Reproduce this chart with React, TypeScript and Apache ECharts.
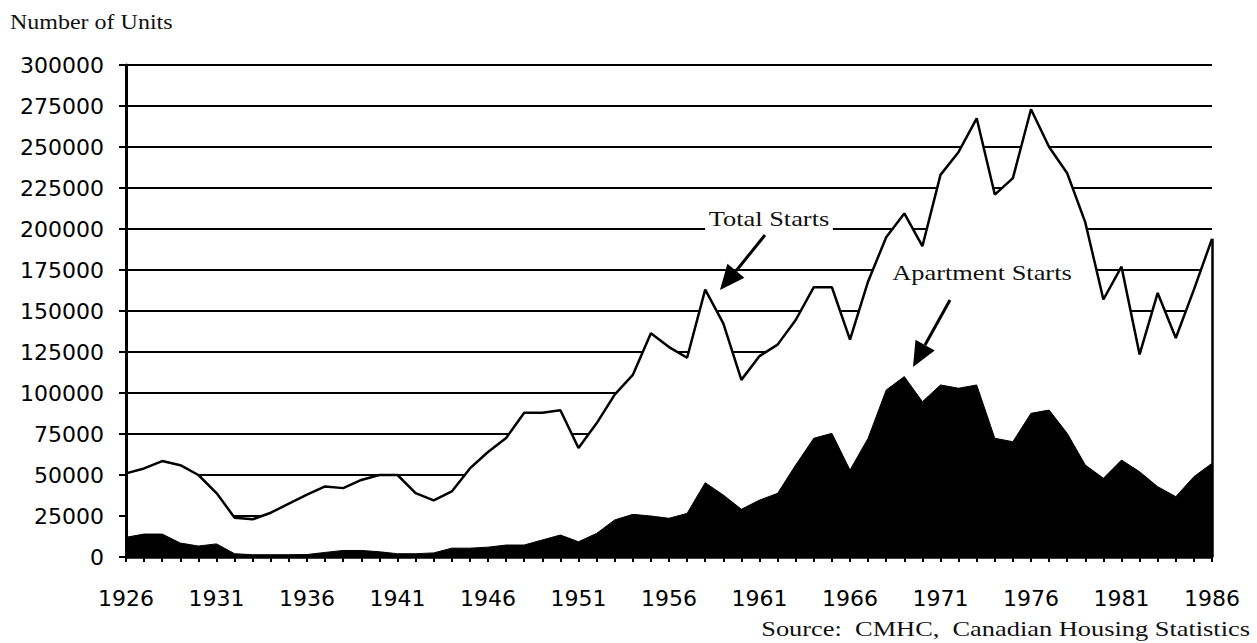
import React, { useEffect, useRef } from "react";
import * as echarts from "echarts";

const years = [
  "1926", "1927", "1928", "1929", "1930", "1931", "1932", "1933", "1934", "1935",
  "1936", "1937", "1938", "1939", "1940", "1941", "1942", "1943", "1944", "1945",
  "1946", "1947", "1948", "1949", "1950", "1951", "1952", "1953", "1954", "1955",
  "1956", "1957", "1958", "1959", "1960", "1961", "1962", "1963", "1964", "1965",
  "1966", "1967", "1968", "1969", "1970", "1971", "1972", "1973", "1974", "1975",
  "1976", "1977", "1978", "1979", "1980", "1981", "1982", "1983", "1984", "1985",
  "1986",
];

const totalStarts = [
  51000, 54000, 58500, 56000, 50000, 39000, 24000, 23000, 27000, 32500,
  38000, 43000, 42000, 47000, 50000, 50000, 39000, 34500, 40000, 54000,
  64000, 72500, 88000, 88000, 89500, 66500, 81500, 99000, 111000, 136500,
  128000, 121500, 163000, 142500, 108000, 122500, 129500, 144500, 164500, 164500,
  132500, 168000, 195000, 209500, 189500, 233000, 247000, 267500, 221000, 231000,
  273000, 250000, 234000, 204000, 157000, 177000, 123500, 161000, 133500, 163000,
  194000,
];

const apartmentStarts = [
  12000, 14000, 14000, 8500, 6700, 8000, 2000, 1400, 1400, 1400,
  1500, 2800, 4000, 4000, 3200, 2000, 2000, 2500, 5400, 5400,
  6000, 7300, 7300, 10400, 13400, 9300, 14400, 22600, 26000, 25000,
  23600, 26600, 45300, 37800, 29100, 34700, 38800, 56100, 72400, 75400,
  53000, 72400, 101800, 110000, 94700, 104900, 102900, 104900, 72400, 70300,
  87600, 89600, 75400, 56100, 48000, 59100, 52000, 42900, 36800, 49000,
  57100,
];

const Y_MIN = 0;
const Y_MAX = 300000;
const Y_STEP = 25000;

const SERIF = "'Liberation Serif', 'Times New Roman', serif";
const SANS = "'DejaVu Sans', 'Liberation Sans', sans-serif";

export default function App() {
  const ref = useRef<HTMLDivElement>(null);

  useEffect(() => {
    if (!ref.current) return;
    const chart = echarts.init(ref.current, undefined, { renderer: "svg" });

    const lastYear = years[years.length - 1];
    const lastTotal = totalStarts[totalStarts.length - 1];

    const option: any = {
      animation: false,
      backgroundColor: "#ffffff",
      grid: { left: 126, right: 45, top: 65, bottom: 86, containLabel: false },
      xAxis: {
        type: "category",
        data: years,
        boundaryGap: false,
        z: 10,
        axisLine: { show: true, lineStyle: { color: "#000", width: 2.5 } },
        axisTick: { show: true, interval: 0, length: 5, lineStyle: { color: "#000", width: 2 } },
        axisLabel: {
          interval: 4,
          margin: 30,
          color: "#000",
          fontFamily: SANS,
          fontSize: 22,
        },
        splitLine: { show: false },
      },
      yAxis: [
        {
          type: "value",
          min: Y_MIN,
          max: Y_MAX,
          interval: Y_STEP,
          axisLine: { show: false },
          axisTick: { show: false },
          axisLabel: { show: false },
          splitLine: { show: true, lineStyle: { color: "#000", width: 2 } },
        },
        {
          type: "value",
          min: Y_MIN,
          max: Y_MAX,
          interval: Y_STEP,
          position: "left",
          z: 10,
          axisLine: { show: true, lineStyle: { color: "#000", width: 3 } },
          axisTick: { show: true, length: 7, lineStyle: { color: "#000", width: 2 } },
          axisLabel: {
            margin: 22,
            color: "#000",
            fontFamily: SANS,
            fontSize: 22,
            formatter: (v: number) => String(v),
          },
          splitLine: { show: false },
        },
      ],
      series: [
        {
          name: "Total Starts",
          type: "line",
          data: totalStarts,
          yAxisIndex: 0,
          symbol: "none",
          z: 2,
          lineStyle: { color: "#000", width: 2.5 },
          areaStyle: { color: "#ffffff", opacity: 1 },
          markLine: {
            silent: true,
            symbol: ["none", "none"],
            label: { show: false },
            lineStyle: { color: "#000", width: 2.5, type: "solid" },
            data: [[{ coord: [lastYear, 0] }, { coord: [lastYear, lastTotal] }]],
          },
        },
        {
          name: "Apartment Starts",
          type: "line",
          data: apartmentStarts,
          yAxisIndex: 0,
          symbol: "none",
          z: 3,
          lineStyle: { color: "#000", width: 1 },
          areaStyle: { color: "#000000", opacity: 1 },
        },
      ],
      graphic: [
        {
          type: "text",
          x: 10,
          y: 22,
          scaleX: 1.2,
          style: {
            text: "Number of Units",
            fontFamily: SERIF,
            fontSize: 20,
            fill: "#111",
            textAlign: "left",
            textVerticalAlign: "middle",
          },
        },
        {
          type: "text",
          x: 1250,
          y: 628,
          scaleX: 1.2,
          style: {
            text: "Source:  CMHC,  Canadian Housing Statistics",
            fontFamily: SERIF,
            fontSize: 22,
            fill: "#111",
            textAlign: "right",
            textVerticalAlign: "middle",
          },
        },
        {
          type: "text",
          x: 769,
          y: 218,
          scaleX: 1.2,
          z: 20,
          style: {
            text: "Total Starts",
            fontFamily: SERIF,
            fontSize: 22,
            fill: "#111",
            textAlign: "center",
            textVerticalAlign: "middle",
            backgroundColor: "#ffffff",
            padding: [3, 3],
          },
        },
        {
          type: "text",
          x: 982,
          y: 272,
          scaleX: 1.2,
          z: 20,
          style: {
            text: "Apartment Starts",
            fontFamily: SERIF,
            fontSize: 22,
            fill: "#111",
            textAlign: "center",
            textVerticalAlign: "middle",
          },
        },
        {
          type: "line",
          z: 20,
          shape: { x1: 765, y1: 235, x2: 736, y2: 271 },
          style: { stroke: "#000", lineWidth: 3 },
        },
        {
          type: "polygon",
          z: 20,
          shape: { points: [[720, 290], [744.4, 277.7], [727.4, 263.7]] },
          style: { fill: "#000" },
        },
        {
          type: "line",
          z: 20,
          shape: { x1: 950, y1: 300, x2: 925, y2: 345 },
          style: { stroke: "#000", lineWidth: 3 },
        },
        {
          type: "polygon",
          z: 20,
          shape: { points: [[913, 367], [934.7, 350.4], [915.5, 339.8]] },
          style: { fill: "#000" },
        },
      ],
    };

    chart.setOption(option);
    return () => chart.dispose();
  }, []);

  return (
    <div
      ref={ref}
      style={{ position: "absolute", left: 0, top: 0, width: 1257, height: 643 }}
    />
  );
}
